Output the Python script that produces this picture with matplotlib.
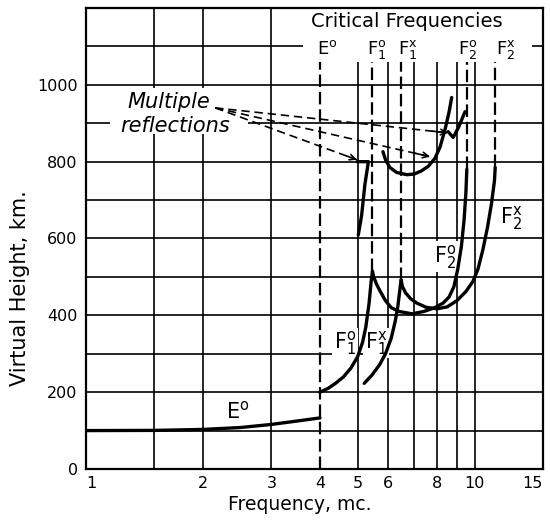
import matplotlib
matplotlib.use("Agg")
import numpy as np
import matplotlib.pyplot as plt
from matplotlib.patches import Rectangle

plt.rcParams['font.family'] = ['DejaVu Sans']
plt.rcParams['mathtext.default'] = 'regular'
plt.rcParams['lines.scale_dashes'] = False

# ---------------- data ----------------
e_o_freq = [1.0, 1.5, 2.0, 2.5, 3.0, 3.5, 4.0]
e_o_height = [100, 100.5, 103, 108, 116, 125, 133]

f1_o_freq = [4.0, 4.2, 4.4, 4.6, 4.8, 5.0, 5.15, 5.25, 5.35, 5.42, 5.46]
f1_o_height = [200, 210, 224, 240, 262, 292, 330, 370, 430, 490, 515]

f2_o_freq = [5.46, 5.5, 5.6, 5.75, 5.9, 6.1, 6.4, 6.9, 7.4, 7.9, 8.3, 8.6,
             8.85, 9.05, 9.25, 9.4, 9.5, 9.55]
f2_o_height = [515, 500, 480, 458, 438, 420, 410, 404, 410, 420, 432, 448,
               475, 520, 580, 650, 720, 780]

f1_x_freq = [5.2, 5.45, 5.7, 5.9, 6.1, 6.25, 6.35, 6.42, 6.47]
f1_x_height = [223, 245, 272, 300, 340, 385, 425, 465, 492]

f2_x_freq = [6.47, 6.52, 6.65, 6.85, 7.1, 7.5, 8.0, 8.5, 9.0, 9.5, 9.9,
             10.2, 10.5, 10.8, 11.05, 11.25, 11.3]
f2_x_height = [492, 475, 458, 443, 432, 421, 417, 422, 438, 462, 488,
               520, 570, 630, 690, 750, 785]

# multiple-reflection traces
m1_freq = [5.02, 5.12, 5.22, 5.33, 4.98]
m1_height = [609, 660, 740, 800, 800]

m2_freq = [5.81, 5.9, 6.05, 6.3, 6.7, 7.0, 7.3, 7.6, 7.9, 8.15, 8.4, 8.6, 8.73]
m2_height = [826, 805, 785, 772, 766, 768, 776, 788, 808, 838, 885, 930, 967]

m3_freq = [8.55, 8.81, 9.1, 9.45]
m3_height = [878, 863, 890, 930]

# critical frequencies (label, frequency, lower end of dashed line)
crit_labels = ['$E^o$', '$F_1^o$', '$F_1^x$', '$F_2^o$', '$F_2^x$']
crit_freq = [4.0, 5.46, 6.45, 9.55, 11.3]
crit_low = [0, 515, 492, 780, 785]
crit_label_freq = [4.17, 5.61, 6.74, 9.62, 12.05]

# arrow (multiple reflections) start and targets
arrow_start = (2.15, 940)
arrow_end_freq = [4.98, 7.68, 8.54]
arrow_end_height = [805, 813, 875]

x_ticks = [1, 2, 3, 4, 5, 6, 8, 10, 15]
x_tick_labels = ['1', '2', '3', '4', '5', '6', '8', '10', '15']
y_ticks = [0, 200, 400, 600, 800, 1000]
y_tick_labels = ['0', '200', '400', '600', '800', '1000']

grid_h = [100, 200, 300, 400, 500, 600, 700, 800, 900, 1000, 1100]
grid_v_full = [1.5, 2, 3]
grid_v_part = [5, 6, 7, 8, 9, 10]

# ---------------- figure ----------------
W, H = 550, 522
fig = plt.figure(figsize=(W / 100, H / 100), dpi=100)
ax = fig.add_axes([86 / W, 1 - 469 / H, (543 - 86) / W, (469 - 8) / H])
ax.set_xscale('log')
ax.set_xlim(1, 15)
ax.set_ylim(0, 1200)

top_cut = 1060
lw_grid = 1.2
for h in grid_h:
    ax.axhline(h, color='black', lw=lw_grid, zorder=1)
ax.vlines(grid_v_full, 0, 1200, color='black', lw=lw_grid, zorder=1)
ax.vlines(grid_v_part, 0, top_cut, color='black', lw=lw_grid, zorder=1)

# white masks behind lettering
ax.add_patch(Rectangle((3.62, top_cut), 14.05 - 3.62, 1200 - top_cut,
                       facecolor='white', edgecolor='none', zorder=1.5))
ax.add_patch(Rectangle((1.15, 872), 2.61 - 1.15, 120,
                       facecolor='white', edgecolor='none', zorder=1.5))

# critical frequency dashed lines
for f, lo in zip(crit_freq, crit_low):
    ax.plot([f, f], [lo, top_cut], color='black', lw=1.6,
            dashes=(9, 3.5), zorder=2)

# curves
lw_c = 2.4
for fx, hy in [(e_o_freq, e_o_height), (f1_o_freq, f1_o_height),
               (f2_o_freq, f2_o_height), (f1_x_freq, f1_x_height),
               (f2_x_freq, f2_x_height), (m1_freq, m1_height),
               (m2_freq, m2_height), (m3_freq, m3_height)]:
    ax.plot(fx, hy, color='black', lw=lw_c, zorder=3,
            solid_capstyle='round', solid_joinstyle='round')

# dashed arrows
fs, hs = arrow_start
for fe, he in zip(arrow_end_freq, arrow_end_height):
    ax.plot([fs, fe], [hs, he], color='black', lw=1.2, dashes=(6, 3.5), zorder=3)
    t = 0.07
    fm = 10 ** (np.log10(fe) + t * (np.log10(fs) - np.log10(fe)))
    hm = he + t * (hs - he)
    ax.annotate('', xy=(fe, he), xytext=(fm, hm),
                arrowprops=dict(arrowstyle='->', lw=1.2, color='black',
                                mutation_scale=10, shrinkA=0, shrinkB=0),
                zorder=3)

# text
ax.text(6.70, 1164, 'Critical Frequencies', ha='center', va='center',
        fontsize=14, zorder=4)
for lab, f in zip(crit_labels, crit_label_freq):
    ax.text(f, 1093, lab, ha='center', va='center', fontsize=13, zorder=4)

ax.text(1.63, 955, 'Multiple', ha='center', va='center', fontsize=15,
        style='italic', zorder=4)
ax.text(1.70, 893, 'reflections', ha='center', va='center', fontsize=15,
        style='italic', zorder=4)

bb = dict(facecolor='white', edgecolor='none', pad=1.0)
ax.text(2.46, 151, '$E^o$', ha='center', va='center', fontsize=15, zorder=2.5, bbox=bb)
ax.text(4.64, 328, '$F_1^o$', ha='center', va='center', fontsize=15, zorder=2.5, bbox=bb)
ax.text(5.58, 328, '$F_1^x$', ha='center', va='center', fontsize=15, zorder=2.5, bbox=bb)
ax.text(8.39, 552, '$F_2^o$', ha='center', va='center', fontsize=15, zorder=2.5, bbox=bb)
ax.text(12.4, 653, '$F_2^x$', ha='center', va='center', fontsize=15, zorder=2.5, bbox=bb)

# ticks
ax.xaxis.set_minor_locator(matplotlib.ticker.NullLocator())
ax.set_xticks(x_ticks)
ax.set_xticklabels(x_tick_labels)
ax.set_yticks(y_ticks)
ax.set_yticklabels(y_tick_labels)
ax.tick_params(axis='both', length=0, labelsize=11.5)
ax.tick_params(axis='x', pad=5)
ax.tick_params(axis='y', pad=6)
ax.get_xticklabels()[-1].set_horizontalalignment('right')
ax.get_xticklabels()[0].set_horizontalalignment('left')

for s in ax.spines.values():
    s.set_linewidth(1.6)
    s.set_zorder(5)

fig.text(20 / W, 1 - 288 / H, 'Virtual Height, km.', rotation=90,
         ha='center', va='center', fontsize=15)
fig.text(300 / W, 1 - 505 / H, 'Frequency, mc.', ha='center', va='center',
         fontsize=13.5)

fig.savefig('out.png', dpi=100, facecolor='white')
